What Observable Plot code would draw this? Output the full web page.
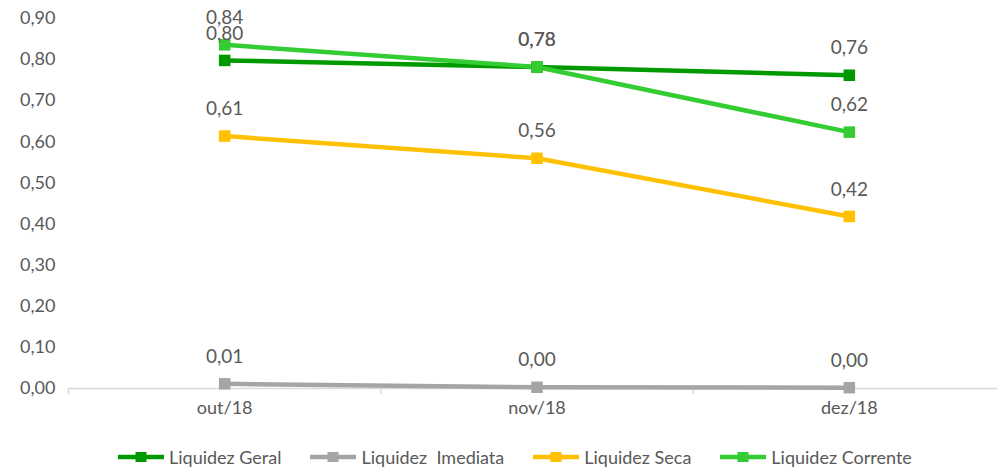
<!DOCTYPE html>
<html>
<head>
<meta charset="utf-8">
<script src="https://cdn.jsdelivr.net/npm/d3@7"></script>
<script src="https://cdn.jsdelivr.net/npm/@observablehq/plot@0.6"></script>
<style>
  body { margin: 0; background: #fff; font-family: Lato, "Open Sans", sans-serif; }
  #chart { width: 997px; height: 468px; position: relative; overflow: hidden; }
  #legend { display: flex; align-items: center; height: 38px; margin-top: 8px; padding-left: 118px; font-size: 18px; color: #595959; }
  .item { display: flex; align-items: center; margin-right: 29px; }
  .item svg { margin-right: 5px; }
</style>
</head>
<body>
<div id="chart"></div>
<script>
const months = ["out/18", "nov/18", "dez/18"];
const seriesNames = ["Liquidez Geral", "Liquidez  Imediata", "Liquidez Seca", "Liquidez Corrente"];
const colors = ["#009a00", "#a5a5a5", "#ffc000", "#33cc33"];
const liquidezGeral = [0.798, 0.782, 0.762];
const liquidezImediata = [0.0114, 0.003, 0.002];
const liquidezSeca = [0.614, 0.560, 0.4185];
const liquidezCorrente = [0.836, 0.782, 0.6236];
const yTicks = [0, 0.1, 0.2, 0.3, 0.4, 0.5, 0.6, 0.7, 0.8, 0.9];

const seriesValues = [liquidezGeral, liquidezImediata, liquidezSeca, liquidezCorrente];
const rows = [];
seriesNames.forEach((s, si) => {
  seriesValues[si].forEach((v, i) => rows.push({series: s, idx: i, month: months[i], value: v}));
});
const fmt = v => d3.format(".2f")(v).replace(".", ",");
const boundaries = d3.range(months.length + 1).map(i => i - 0.5);

const plot = Plot.plot({
  width: 997,
  height: 430,
  marginLeft: 68,
  marginRight: -8,
  marginTop: 18,
  marginBottom: 42,
  style: {fontFamily: "Lato, 'Open Sans', sans-serif", fontSize: "18px", color: "#595959", background: "#fff"},
  x: {type: "linear", domain: [-0.5, months.length - 0.5], label: null},
  y: {domain: [0, 0.9], label: null},
  color: {domain: seriesNames, range: colors},
  marks: [
    Plot.axisY({ticks: yTicks, tickFormat: fmt, tickSize: 0, tickPadding: 13, fontSize: 18, fill: "#595959", label: null}),
    Plot.ruleY([0], {stroke: "#d9d9d9", strokeWidth: 1.5}),
    Plot.axisX({ticks: boundaries, tickSize: 6, stroke: "#d9d9d9", strokeWidth: 1.5, tickFormat: () => "", label: null}),
    Plot.axisX({ticks: d3.range(months.length), tickSize: 0, tickPadding: 13, tickFormat: i => months[i], fontSize: 18, fill: "#595959", label: null}),
    Plot.line(rows, {x: "idx", y: "value", z: "series", stroke: "series", strokeWidth: 4.5}),
    Plot.dot(rows, {x: "idx", y: "value", fill: "series", symbol: "square", r: 6.5}),
    Plot.text(rows, {x: "idx", y: "value", text: d => fmt(d.value), dy: -27, fill: "#595959", fontSize: 19})
  ]
});
document.getElementById("chart").appendChild(plot);

const legend = document.createElement("div");
legend.id = "legend";
seriesNames.forEach((s, i) => {
  const item = document.createElement("div");
  item.className = "item";
  item.innerHTML = `<svg width="46" height="12"><line x1="0" x2="46" y1="6" y2="6" stroke="${colors[i]}" stroke-width="4.5"/><rect x="17.5" y="1" width="11" height="10" fill="${colors[i]}"/></svg><span style="white-space:pre">${s}</span>`;
  legend.appendChild(item);
});
document.getElementById("chart").appendChild(legend);
</script>
</body>
</html>
